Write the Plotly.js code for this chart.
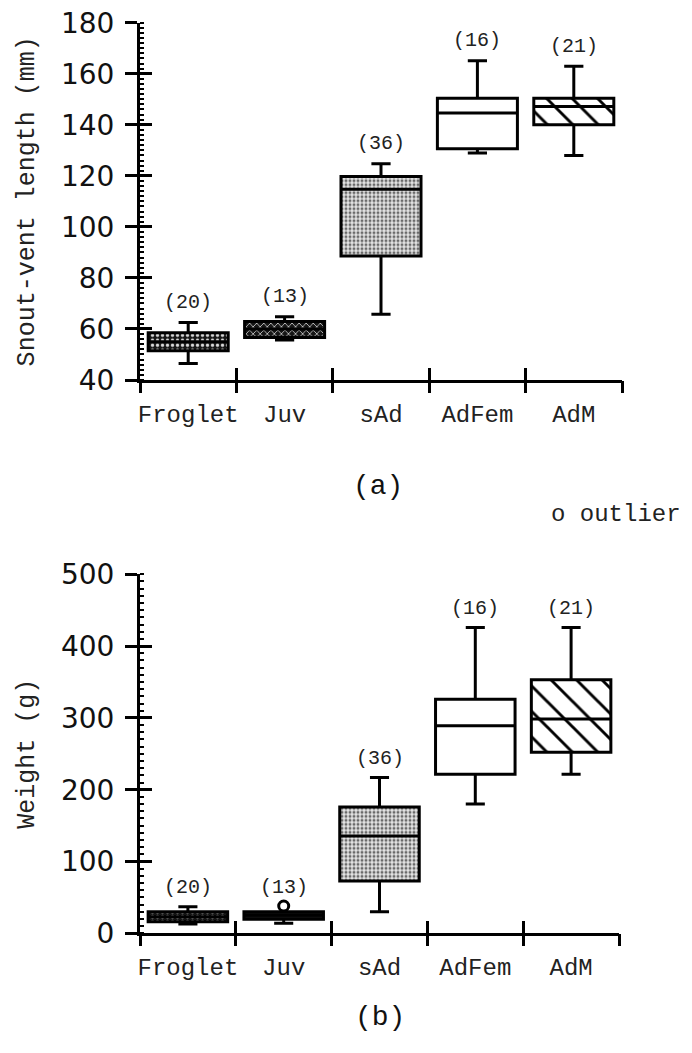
<!DOCTYPE html>
<html><head><meta charset="utf-8">
<script src="https://cdn.plot.ly/plotly-3.0.1.min.js"></script>
<style>body{margin:0;background:#fff}</style>
</head><body>
<div id="chart" style="width:692px;height:1053px"></div>
<script>
// ---- data ----
const categories = ['Froglet', 'Juv', 'sAd', 'AdFem', 'AdM'];
const sampleSizes = [20, 13, 36, 16, 21];
// (a) snout-vent length (mm)
const svlLower  = [46.5, 55.7, 65.8, 128.9, 128.0];
const svlQ1     = [51.5, 56.7, 88.6, 130.6, 140.0];
const svlMedian = [55.0, 60.0, 114.7, 144.6, 147.2];
const svlQ3     = [58.5, 62.9, 119.7, 150.4, 150.4];
const svlUpper  = [62.5, 64.8, 124.7, 165.1, 162.9];
// (b) weight (g)
const wLower  = [13, 14, 30, 180, 221.5];
const wQ1     = [16, 19.5, 73, 221.5, 252];
const wMedian = [23, 25, 135.5, 289, 298.5];
const wQ3     = [30, 30, 176, 326, 353];
const wUpper  = [37, 30, 217, 426, 426];
const outlierCategory = ['Juv'];
const outlierWeight = [38];

// ---- styles ----
const idx = categories.map((c, i) => i);
const bounds = categories.map((c, i) => i - 0.5).concat([categories.length - 0.5]);
const mono = 'Liberation Mono, Courier New, monospace';
const sans = 'DejaVu Sans, sans-serif';
const BOXW = 0.83;

const patTop = [
  { shape: '.', fg: '#d8d8d8', bg: '#161616', size: 5, solidity: 0.35 },
  { shape: 'x', fg: '#c8c8c8', bg: '#161616', size: 5, solidity: 0.3 },
  { shape: '.', fg: '#6a6a6a', bg: '#e4e4e4', size: 4, solidity: 0.45 },
  { shape: '', fg: '#000', bg: '#ffffff', size: 8, solidity: 0.2 },
  { shape: '\\', fg: '#000', bg: '#ffffff', size: 18, solidity: 0.16 }
];
const patBot = [
  { shape: '.', fg: '#d8d8d8', bg: '#161616', size: 5, solidity: 0.35 },
  { shape: '', fg: '#111', bg: '#111111', size: 5, solidity: 0.3 },
  { shape: '.', fg: '#6a6a6a', bg: '#e4e4e4', size: 4, solidity: 0.45 },
  { shape: '', fg: '#000', bg: '#ffffff', size: 8, solidity: 0.2 },
  { shape: '\\', fg: '#000', bg: '#ffffff', size: 18, solidity: 0.16 }
];

function fillBars(q1, q3, pats, xa, ya) {
  return categories.map((c, i) => ({
    type: 'bar', x: [i], base: [q1[i]], y: [q3[i] - q1[i]], width: BOXW,
    xaxis: xa, yaxis: ya, hoverinfo: 'skip', showlegend: false,
    marker: {
      color: pats[i].bg, opacity: 1, line: { width: 0 },
      pattern: { shape: pats[i].shape, fgcolor: pats[i].fg, bgcolor: pats[i].bg,
        size: pats[i].size, solidity: pats[i].solidity, fillmode: 'replace' }
    }
  }));
}
function boxTrace(lo, q1, med, q3, hi, xa, ya) {
  return {
    type: 'box', x: idx, lowerfence: lo, q1: q1, median: med, q3: q3, upperfence: hi,
    xaxis: xa, yaxis: ya, boxpoints: false, showlegend: false, width: BOXW,
    fillcolor: 'rgba(0,0,0,0)', line: { color: '#000', width: 3 }, whiskerwidth: 0.24
  };
}
function dummy(xa, ya) {
  return { type: 'scatter', mode: 'markers', x: [null], y: [null], xaxis: xa, yaxis: ya,
    showlegend: false, hoverinfo: 'skip' };
}

const data = [].concat(
  fillBars(svlQ1, svlQ3, patTop, 'x', 'y'),
  fillBars(wQ1, wQ3, patBot, 'x2', 'y2'),
  [
    boxTrace(svlLower, svlQ1, svlMedian, svlQ3, svlUpper, 'x', 'y'),
    boxTrace(wLower, wQ1, wMedian, wQ3, wUpper, 'x2', 'y2'),
    {
      type: 'scatter', mode: 'markers', xaxis: 'x2', yaxis: 'y2', showlegend: false,
      x: outlierCategory.map(c => categories.indexOf(c)), y: outlierWeight,
      marker: { symbol: 'circle-open', size: 10, color: '#000', line: { width: 3, color: '#000' } }
    },
    dummy('x3', 'y3'), dummy('x5', 'y'),
    dummy('x4', 'y4'), dummy('x6', 'y2')
  ]
);

const domXTop = [140 / 692, 622 / 692];
const domXBot = [140 / 692, 619 / 692];
const domYTop = [1 - 380 / 1053, 1 - 22.7 / 1053];
const domYBot = [1 - 933.3 / 1053, 1 - 574.3 / 1053];

function catAxis(dom, anchor) {
  return {
    domain: dom, anchor: anchor, type: 'linear', range: [-0.5, categories.length - 0.5],
    tickmode: 'array', tickvals: idx, ticktext: categories, ticks: '',
    showline: true, linewidth: 3, linecolor: '#000', showgrid: false, zeroline: false,
    tickfont: { family: mono, size: 24, color: '#222' }, ticklabelstandoff: 10, fixedrange: true
  };
}
function bndAxis(dom, anchor, over, side) {
  return {
    domain: dom, anchor: anchor, overlaying: over, type: 'linear', range: [-0.5, categories.length - 0.5],
    tickmode: 'array', tickvals: bounds, ticks: side, ticklen: 12, tickwidth: 3, tickcolor: '#000',
    showticklabels: false, showline: false, showgrid: false, zeroline: false, fixedrange: true
  };
}
function valAxis(dom, anchor, range, dtick, minorDtick, title) {
  return {
    domain: dom, anchor: anchor, type: 'linear', range: range, dtick: dtick, tick0: 0,
    ticks: 'outside', ticklen: 12, tickwidth: 3, tickcolor: '#000',
    minor: { ticks: 'inside', dtick: minorDtick, ticklen: 4, tickwidth: 2, tickcolor: '#000' },
    showline: true, linewidth: 3, linecolor: '#000', showgrid: false, zeroline: false,
    tickfont: { family: sans, size: 28, color: '#111' }, ticklabelstandoff: 5,
    title: { text: title, font: { family: mono, size: 25, color: '#222' }, standoff: 20 },
    fixedrange: true
  };
}
function valOver(dom, anchor, over, range, dtick) {
  return {
    domain: dom, anchor: anchor, overlaying: over, type: 'linear', range: range, dtick: dtick, tick0: 0,
    ticks: 'inside', ticklen: 12, tickwidth: 3, tickcolor: '#000',
    showticklabels: false, showline: false, showgrid: false, zeroline: false, fixedrange: true
  };
}

const annotations = [];
categories.forEach((c, i) => {
  annotations.push({
    xref: 'x', yref: 'y', x: i, y: svlUpper[i], yshift: 20, yanchor: 'middle',
    text: '(' + sampleSizes[i] + ')', showarrow: false, font: { family: mono, size: 20, color: '#222' }
  });
  const oi = outlierCategory.indexOf(c);
  const topW = oi >= 0 ? Math.max(wUpper[i], outlierWeight[oi]) : wUpper[i];
  annotations.push({
    xref: 'x2', yref: 'y2', x: i, y: topW, yshift: 19, yanchor: 'middle',
    text: '(' + sampleSizes[i] + ')', showarrow: false, font: { family: mono, size: 20, color: '#222' }
  });
});
annotations.push({ xref: 'paper', yref: 'paper', x: 378 / 692, y: 1 - 487 / 1053, xanchor: 'center', yanchor: 'middle',
  text: '(a)', showarrow: false, font: { family: mono, size: 28, color: '#111' } });
annotations.push({ xref: 'paper', yref: 'paper', x: 380 / 692, y: 1 - 1017 / 1053, xanchor: 'center', yanchor: 'middle',
  text: '(b)', showarrow: false, font: { family: mono, size: 28, color: '#111' } });
annotations.push({ xref: 'paper', yref: 'paper', x: 616 / 692, y: 1 - 514 / 1053, xanchor: 'center', yanchor: 'middle',
  text: 'o outlier', showarrow: false, font: { family: mono, size: 24, color: '#222' } });

const layout = {
  width: 692, height: 1053, margin: { l: 0, r: 0, t: 0, b: 0 },
  paper_bgcolor: '#fff', plot_bgcolor: 'rgba(0,0,0,0)',
  showlegend: false, barmode: 'overlay', boxmode: 'overlay', boxgroupgap: 0,
  xaxis: catAxis(domXTop, 'y'),
  xaxis2: catAxis(domXBot, 'y2'),
  xaxis3: bndAxis(domXTop, 'y3', 'x', 'outside'),
  xaxis4: bndAxis(domXBot, 'y4', 'x2', 'outside'),
  xaxis5: bndAxis(domXTop, 'y', 'x', 'inside'),
  xaxis6: bndAxis(domXBot, 'y2', 'x2', 'inside'),
  yaxis: valAxis(domYTop, 'x', [40, 180], 20, 2, 'Snout-vent length (mm)'),
  yaxis2: valAxis(domYBot, 'x2', [0, 500], 100, 10, 'Weight (g)'),
  yaxis3: valOver(domYTop, 'x3', 'y', [40, 180], 20),
  yaxis4: valOver(domYBot, 'x4', 'y2', [0, 500], 100),
  annotations: annotations
};

Plotly.newPlot('chart', data, layout, { displayModeBar: false, staticPlot: true });
</script>
</body></html>
